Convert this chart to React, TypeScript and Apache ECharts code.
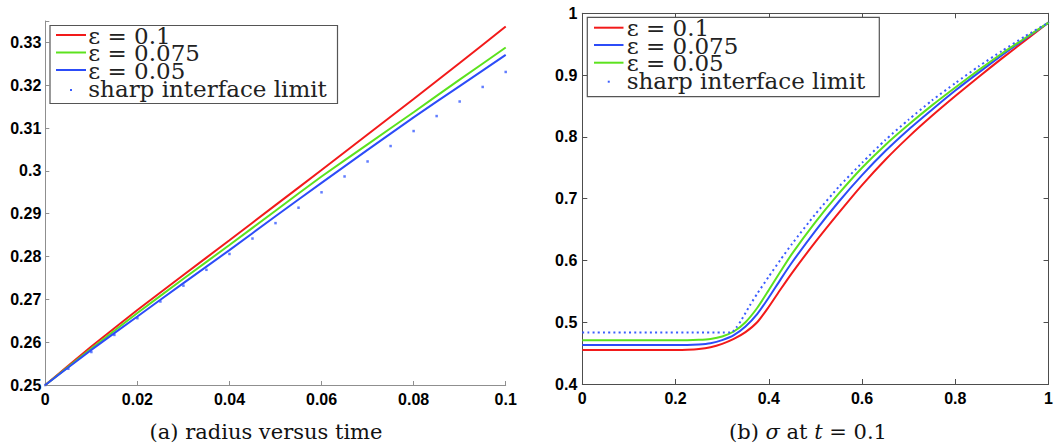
import React, { useEffect, useRef } from 'react';
import * as echarts from 'echarts';

// ---------- (a) radius versus time ----------
const timeX = [0, 0.01, 0.02, 0.03, 0.04, 0.05, 0.06, 0.07, 0.08, 0.09, 0.1];
const radiusEps01 = [0.25, 0.259, 0.2675, 0.2757, 0.2838, 0.292, 0.3002, 0.3085, 0.3168, 0.3252, 0.3337];
const radiusEps0075 = [0.25, 0.2585, 0.2668, 0.2748, 0.2827, 0.2907, 0.2987, 0.3062, 0.3137, 0.3213, 0.3288];
const radiusEps005 = [0.25, 0.2582, 0.266, 0.2738, 0.2815, 0.2894, 0.2972, 0.3049, 0.3125, 0.3198, 0.3271];
const sharpTimeX = [0, 0.005, 0.01, 0.015, 0.02, 0.025, 0.03, 0.035, 0.04, 0.045, 0.05, 0.055, 0.06, 0.065, 0.07, 0.075, 0.08, 0.085, 0.09, 0.095, 0.1];
const radiusSharp = [0.25, 0.2538, 0.2577, 0.2617, 0.2656, 0.2695, 0.2732, 0.2769, 0.2806, 0.2842, 0.2878, 0.2914, 0.295, 0.2987, 0.3022, 0.3058, 0.3093, 0.3128, 0.3162, 0.3196, 0.3231];

// ---------- (b) sigma at t = 0.1 ----------
const sigmaX = [0, 0.2, 0.225, 0.25, 0.275, 0.3, 0.325, 0.35, 0.375, 0.4, 0.425, 0.45, 0.5, 0.55, 0.6, 0.65, 0.7, 0.75, 0.8, 0.85, 0.9, 0.95, 1];
const sigmaEps01 = [0.455, 0.455, 0.4553, 0.4565, 0.4595, 0.465, 0.473, 0.484, 0.5, 0.525, 0.553, 0.58, 0.63, 0.677, 0.722, 0.763, 0.8, 0.834, 0.866, 0.897, 0.927, 0.956, 0.985];
const sigmaEps0075 = [0.463, 0.463, 0.463, 0.4638, 0.466, 0.471, 0.479, 0.493, 0.513, 0.54, 0.569, 0.597, 0.648, 0.695, 0.738, 0.777, 0.812, 0.844, 0.875, 0.904, 0.932, 0.959, 0.985];
const sigmaEps005 = [0.471, 0.471, 0.471, 0.4715, 0.473, 0.477, 0.485, 0.5, 0.523, 0.552, 0.582, 0.611, 0.662, 0.708, 0.75, 0.787, 0.82, 0.851, 0.88, 0.908, 0.935, 0.96, 0.985];
const sharpSigmaX = [0, 0.32, 0.33, 0.34, 0.35, 0.36, 0.375, 0.4, 0.425, 0.45, 0.5, 0.55, 0.6, 0.65, 0.7, 0.75, 0.8, 0.85, 0.9, 0.95, 1];
const sigmaSharp = [0.4835, 0.4835, 0.491, 0.502, 0.515, 0.528, 0.546, 0.574, 0.601, 0.627, 0.675, 0.719, 0.758, 0.795, 0.828, 0.859, 0.887, 0.914, 0.939, 0.963, 0.985];

// ---------- labels ----------
const leftNames = ['ε = 0.1', 'ε = 0.075', 'ε = 0.05', 'sharp interface limit'];
const rightNames = ['ε = 0.1', 'ε = 0.075', 'ε = 0.05', 'sharp interface limit'];
const captionA = '(a) radius versus time';
const captionB = '(b) {i|σ} at {i|t} = 0.1';

const RED = '#f21a1a';
const GREEN = '#5ce21e';
const BLUE = '#2c4cf8';
const DOT = '#3a5cff';

const pair = (xs: number[], ys: number[]) => xs.map((x, i) => [x, ys[i]]);
const fmt = (v: number) => String(+v.toFixed(4));

const tickFont = {
  color: '#000',
  fontFamily: '"Liberation Sans", Arial, sans-serif',
  fontWeight: 'bold' as const,
  fontSize: 16,
};
const SERIF = '"DejaVu Serif", serif';

function legendGraphics(
  box: { x: number; y: number; w: number; h: number },
  lineX1: number,
  lineX2: number,
  rowsY: number[],
  textX: number,
  names: string[],
  colors: string[],
) {
  const els: any[] = [
    {
      type: 'rect',
      shape: { x: box.x, y: box.y, width: box.w, height: box.h },
      style: { fill: '#fff', stroke: '#555', lineWidth: 1.2 },
      z: 100,
    },
  ];
  names.forEach((n, i) => {
    if (i < 3) {
      els.push({
        type: 'line',
        shape: { x1: lineX1, y1: rowsY[i], x2: lineX2, y2: rowsY[i] },
        style: { stroke: colors[i], lineWidth: 2 },
        z: 101,
      });
    } else {
      const cx = (lineX1 + lineX2) / 2;
      els.push({
        type: 'rect',
        shape: { x: cx - 1, y: rowsY[i] - 1, width: 2, height: 2 },
        style: { fill: DOT },
        z: 101,
      });
    }
    els.push({
      type: 'text',
      x: textX,
      y: rowsY[i] + (i === 3 ? -1 : 0.5),
      style: {
        text: n,
        fontFamily: SERIF,
        fontSize: 23,
        lineHeight: 17,
        fill: '#222',
        verticalAlign: 'middle',
        align: 'left',
      },
      z: 102,
    });
  });
  return els;
}

const lineSeries = (name: string, xi: number, xs: number[], ys: number[], color: string, smooth: number, extra: any = {}) => ({
  name,
  type: 'line',
  xAxisIndex: xi,
  yAxisIndex: xi,
  data: pair(xs, ys),
  showSymbol: false,
  smooth,
  lineStyle: { color, width: 2, ...(extra.lineStyle || {}) },
  itemStyle: { color },
});

export default function App() {
  const ref = useRef<HTMLDivElement>(null);
  useEffect(() => {
    document.body.style.margin = '0';
    const chart = echarts.init(ref.current!, null, { renderer: 'svg' });
    const leftAxisColor = '#8f8f8f';
    const rightAxisColor = '#4d4d4d';
    const axisCommon = (color: string, len: number) => ({
      axisLine: { show: true, onZero: false, lineStyle: { color, width: 1 } },
      axisTick: { show: true, inside: true, length: len, lineStyle: { color } },
      splitLine: { show: false },
    });
    const option: any = {
      animation: false,
      backgroundColor: '#fff',
      grid: [
        { left: 45.3, top: 21, width: 460.4, height: 364 },
        { left: 582.3, top: 13.3, width: 468.4, height: 370.7 },
      ],
      xAxis: [
        {
          gridIndex: 0, type: 'value', min: 0, max: 0.1, interval: 0.02, position: 'bottom',
          ...axisCommon(leftAxisColor, 4),
          axisLabel: { ...tickFont, margin: 6, formatter: fmt },
        },
        {
          gridIndex: 1, type: 'value', min: 0, max: 1, interval: 0.2, position: 'bottom',
          ...axisCommon(rightAxisColor, 5),
          axisLabel: { ...tickFont, margin: 6, formatter: fmt },
        },
        {
          gridIndex: 1, type: 'value', min: 0, max: 1, interval: 0.2, position: 'top',
          ...axisCommon(rightAxisColor, 5),
          axisLabel: { show: false },
        },
      ],
      yAxis: [
        {
          gridIndex: 0, type: 'value', min: 0.25, max: 0.335, interval: 0.01,
          ...axisCommon(leftAxisColor, 4),
          axisLabel: { ...tickFont, margin: 4, formatter: (v: number) => (v > 0.3345 ? '' : fmt(v)) },
        },
        {
          gridIndex: 1, type: 'value', min: 0.4, max: 1, interval: 0.1,
          ...axisCommon(rightAxisColor, 5),
          axisLabel: { ...tickFont, margin: 5, formatter: fmt },
        },
        {
          gridIndex: 1, type: 'value', min: 0.4, max: 1, interval: 0.1, position: 'right',
          ...axisCommon(rightAxisColor, 5),
          axisLabel: { show: false },
        },
      ],
      series: [
        lineSeries(leftNames[0], 0, timeX, radiusEps01, RED, 0.15),
        lineSeries(leftNames[1], 0, timeX, radiusEps0075, GREEN, 0.15),
        lineSeries(leftNames[2], 0, timeX, radiusEps005, BLUE, 0.15),
        {
          name: leftNames[3], type: 'scatter', xAxisIndex: 0, yAxisIndex: 0,
          data: pair(sharpTimeX, radiusSharp), symbol: 'rect', symbolSize: 2.5,
          itemStyle: { color: DOT },
        },
        lineSeries(rightNames[0], 1, sigmaX, sigmaEps01, RED, 0.25),
        lineSeries(rightNames[1], 1, sigmaX, sigmaEps0075, BLUE, 0.25),
        lineSeries(rightNames[2], 1, sigmaX, sigmaEps005, GREEN, 0.25),
        lineSeries(rightNames[3], 1, sharpSigmaX, sigmaSharp, DOT, 0.2, {
          lineStyle: { type: [2, 3.2], cap: 'butt' },
        }),
      ],
      graphic: [
        ...legendGraphics({ x: 50, y: 25.5, w: 287.5, h: 78 }, 56, 86, [35, 52.5, 70, 90], 88.3, leftNames, [RED, GREEN, BLUE]),
        ...legendGraphics({ x: 587.3, y: 17.3, w: 292, h: 79.4 }, 594, 623.5, [27.7, 45, 62.7, 81.7], 626.7, rightNames, [RED, BLUE, GREEN]),
        {
          type: 'text',
          x: 266,
          y: 431.7,
          style: {
            text: captionA,
            fontFamily: SERIF,
            fontSize: 21,
            fill: '#111',
            align: 'center',
            verticalAlign: 'middle',
          },
        },
        {
          type: 'text',
          x: 808,
          y: 431.7,
          style: {
            text: captionB,
            fontFamily: SERIF,
            fontSize: 21,
            fill: '#111',
            align: 'center',
            verticalAlign: 'middle',
            rich: {
              i: { fontFamily: SERIF, fontSize: 21, fontStyle: 'italic', fill: '#111' },
            },
          },
        },
      ],
    };
    chart.setOption(option);
    return () => chart.dispose();
  }, []);
  return (
    <div
      ref={ref}
      style={{ position: 'absolute', left: 0, top: 0, width: 1056, height: 446 }}
    />
  );
}
